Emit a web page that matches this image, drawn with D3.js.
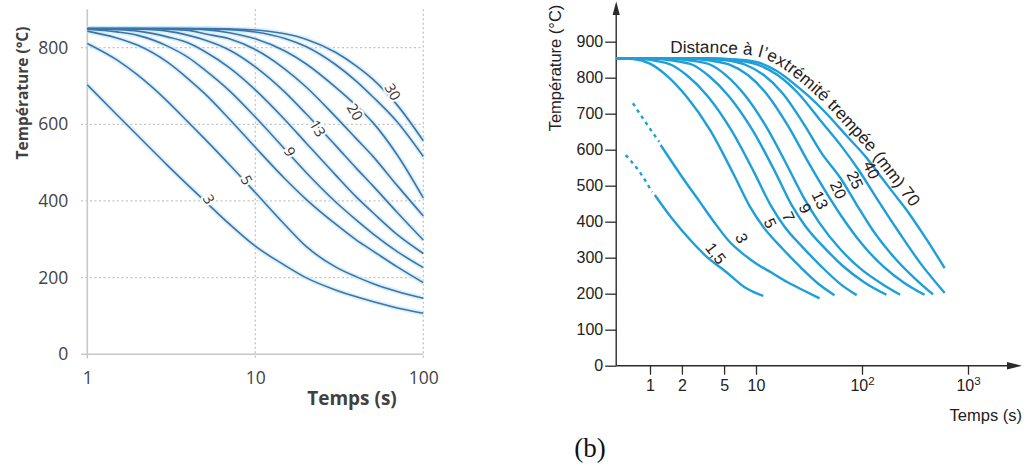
<!DOCTYPE html>
<html><head><meta charset="utf-8">
<script src="https://cdn.jsdelivr.net/npm/d3@7"></script>
<style>
body{margin:0;background:#fff;}
svg{display:block;}
</style></head><body>
<svg id="chart" width="1027" height="471"></svg>
<script>
// ================= DATA : left panel =================
const leftTimes = [1, 1.5, 2, 3, 4, 5, 7, 10, 15, 20, 30, 40, 50, 70, 100];
const leftT3  = [703, 625, 570, 493, 440, 400, 340, 282, 232, 200, 168, 150, 138, 121, 107];
const leftT5  = [811, 768, 728, 660, 605, 562, 495, 422, 338, 282, 228, 202, 185, 164, 146];
const leftT7  = [843, 825, 806, 762, 718, 680, 614, 540, 458, 405, 340, 298, 270, 228, 187];
const leftT9  = [848, 841, 832, 804, 774, 742, 688, 619, 535, 475, 398, 350, 315, 268, 226];
const leftT11 = [849, 847, 843, 828, 812, 790, 748, 690, 612, 552, 468, 410, 370, 312, 263];
const leftT13 = [849, 849, 848, 843, 832, 820, 794, 750, 684, 628, 545, 485, 440, 370, 298];
const leftT15 = [850, 850, 850, 848, 845, 836, 823, 795, 744, 698, 620, 562, 517, 440, 361];
const leftT20 = [850, 850, 850, 850, 849, 847, 839, 823, 791, 758, 697, 648, 605, 520, 408];
const leftT25 = [850, 850, 850, 850, 850, 849, 847, 841, 824, 803, 756, 712, 672, 606, 516];
const leftT30 = [850, 850, 850, 850, 850, 850, 849, 846, 836, 822, 788, 752, 718, 650, 557];
const leftSeries = [leftT3, leftT5, leftT7, leftT9, leftT11, leftT13, leftT15, leftT20, leftT25, leftT30];
const leftLabelText = ["3", "5", "9", "13", "20", "30"];
const leftLabelTime = [5.3, 8.9, 16.1, 23.6, 39.3, 66];
const leftLabelTemp = [405, 455, 529, 590, 633, 685];
const leftYTicks = [0, 200, 400, 600, 800];
const leftXTicks = [1, 10, 100];

// ================= DATA : right panel (b) =================
const r15Dashed = [[0.59,585],[0.79,540],[1.05,482]];
const r15  = [[1.11,474],[1.6,410],[2.4,349],[3.5,300],[5.2,261],[8.1,215],[11.7,194]];
const r3Dashed = [[0.69,729],[0.89,680],[1.22,622]];
const r3   = [[1.26,613],[2.0,525],[2.95,455],[4.0,400],[5.6,345],[7.6,310],[10,284],[14.1,258],[19.5,233],[28.2,209],[39.8,187]];
const r5   = [[0.48,854],[0.7,852],[1,839],[1.41,808],[2.22,747],[3.68,655],[6.1,534],[8.77,442],[11.75,385],[17.8,325],[26,275],[39.8,225],[55,196]];
const r7   = [[0.48,854],[0.79,853],[1.12,847],[1.58,836],[2.24,806],[3.52,748],[5.83,655],[9.68,535],[13.9,443],[18.6,386],[28.2,326],[41.2,276],[63.1,226],[89.1,196]];
const r9   = [[0.48,854],[1,853],[1.58,848],[2.51,836],[3.55,806],[5.57,748],[9.25,655],[15.35,535],[22,443],[29.5,386],[44.7,326],[66,277],[104.7,232],[170,197]];
const r13  = [[0.48,854],[1.41,854],[2.51,847],[3.72,836],[5.25,806],[7.94,750],[12.6,662],[20,552],[28.2,467],[39.8,396],[63.1,322],[100,266],[158.5,225],[229,197]];
const r20  = [[0.48,854],[2,854],[3.55,848],[5.62,836],[8.32,808],[12.6,755],[20,667],[31.6,562],[44.7,487],[63.1,418],[100,338],[158.5,276],[251,230],[389,197]];
const r25  = [[0.48,854],[2.51,854],[5.01,849],[7.94,836],[11.75,808],[17.8,757],[28.2,672],[41.7,590],[63.1,520],[89.1,447],[125.9,377],[199.5,302],[316,242],[468,198]];
const r40  = [[0.48,854],[3.16,854],[6.31,849],[10,838],[15.85,808],[25.1,756],[39.8,684],[63.1,612],[93.3,543],[141,460],[224,370],[355,285],[603,202]];
const r70  = [[0.48,854],[3.16,854],[6.31,851],[10,844],[15.85,818],[22.9,783],[31.6,748],[45.7,702],[70.8,640],[110,578],[144.5,532],[200,478],[251,441],[398,355],[603,271]];
const rightSolid = [r15, r3, r5, r7, r9, r13, r20, r25, r40];
const rightDashed = [r15Dashed, r3Dashed];
const rightLabelText = ["1,5", "3", "5", "7", "9", "13", "20", "25", "40"];
const rightLabelTime = [4.17, 7.33, 13.6, 20.2, 29, 40.2, 59.7, 85.9, 123];
const rightLabelTemp = [312, 354, 396, 414, 437, 460, 488, 516, 544];
const rightYTicks = [0, 100, 200, 300, 400, 500, 600, 700, 800, 900];
const rightXTicks = [1, 2, 5, 10, 100, 1000];
const curveTitle = "Distance à l’extrémité trempée (mm) 70";

// ================= DRAW =================
const svg = d3.select("#chart");
const LF = "'Open Sans', sans-serif";
const RF = "'Liberation Sans', Arial, sans-serif";

// ---------- left panel ----------
const xL = d3.scaleLog().domain([1, 100]).range([87.3, 423.3]);
const yL = d3.scaleLinear().domain([0, 900]).range([354.3, 9.3]);
const gL = svg.append("g");

gL.selectAll("line.hg").data(leftYTicks.filter(d => d > 0)).join("line")
  .attr("x1", 81).attr("x2", xL(100)).attr("y1", d => yL(d)).attr("y2", d => yL(d))
  .attr("stroke", "#c4c4c4").attr("stroke-width", 1.3).attr("stroke-dasharray", "2,2.5");
gL.selectAll("line.vg").data([10, 100]).join("line")
  .attr("x1", d => xL(d)).attr("x2", d => xL(d)).attr("y1", yL(900)).attr("y2", yL(0) + 4)
  .attr("stroke", "#c4c4c4").attr("stroke-width", 1.3).attr("stroke-dasharray", "2,2.5");
gL.append("line").attr("x1", xL(1)).attr("x2", xL(1)).attr("y1", yL(900)).attr("y2", yL(0) + 4)
  .attr("stroke", "#c8c8c8").attr("stroke-width", 1.6);
gL.append("line").attr("x1", 81).attr("x2", xL(100)).attr("y1", yL(0)).attr("y2", yL(0))
  .attr("stroke", "#c8c8c8").attr("stroke-width", 1.6);

const axL = gL.append("g").attr("transform", `translate(${xL(1)},0)`)
  .call(d3.axisLeft(yL).tickValues(leftYTicks).tickSize(0).tickPadding(19));
axL.select(".domain").remove();
axL.selectAll("text").attr("font-family", LF).attr("font-size", 17.5).attr("fill", "#444");
const axLx = gL.append("g").attr("transform", `translate(0,${yL(0)})`)
  .call(d3.axisBottom(xL).tickValues(leftXTicks).tickFormat(d3.format("d")).tickSize(0).tickPadding(17.5));
axLx.select(".domain").remove();
axLx.selectAll("text").attr("font-family", LF).attr("font-size", 17.5).attr("fill", "#444");

gL.append("text").attr("transform", "translate(28,93) rotate(-90)").attr("text-anchor", "middle")
  .attr("font-family", LF).attr("font-weight", "bold").attr("font-size", 15.5).attr("fill", "#404040")
  .text("Température (°C)");
gL.append("text").attr("x", 352).attr("y", 405).attr("text-anchor", "middle")
  .attr("font-family", LF).attr("font-weight", "bold").attr("font-size", 19).attr("fill", "#404040")
  .text("Temps (s)");

const lineL = d3.line().x(d => xL(d[0])).y(d => yL(d[1])).curve(d3.curveMonotoneX);
const leftData = leftSeries.map(s => leftTimes.map((t, i) => [t, s[i]]));
gL.selectAll("path.halo").data(leftData).join("path")
  .attr("d", lineL).attr("fill", "none").attr("stroke", "#cdeaf8").attr("stroke-width", 5).attr("opacity", 0.7);
gL.selectAll("path.core").data(leftData).join("path")
  .attr("d", lineL).attr("fill", "none").attr("stroke", "#3a74a8").attr("stroke-width", 1.6);

gL.selectAll("text.lbl").data(leftLabelText).join("text")
  .attr("transform", (d, i) => `translate(${xL(leftLabelTime[i])},${yL(leftLabelTemp[i])}) rotate(60)`)
  .attr("text-anchor", "middle").attr("dominant-baseline", "central")
  .attr("font-family", LF).attr("font-size", 14.5).attr("fill", "#333")
  .attr("stroke", "#fff").attr("stroke-width", 4).attr("paint-order", "stroke")
  .text(d => d);

// ---------- right panel ----------
const xR = d3.scaleLog().domain([1, 1000]).range([650, 968]);
const yR = d3.scaleLinear().domain([0, 900]).range([365.7, 41.7]);
const gR = svg.append("g");
const x0 = xR(0.48);

gR.append("line").attr("x1", x0).attr("x2", x0).attr("y1", yR(0)).attr("y2", 12)
  .attr("stroke", "#2b2b2b").attr("stroke-width", 1.4);
gR.append("path").attr("d", `M${x0},1.5 L${x0 - 3.6},15 L${x0 + 3.6},15 Z`).attr("fill", "#2b2b2b");
gR.append("line").attr("x1", x0).attr("x2", 1010).attr("y1", yR(0)).attr("y2", yR(0))
  .attr("stroke", "#2b2b2b").attr("stroke-width", 1.4);
gR.append("path").attr("d", `M1022,${yR(0)} L1007,${yR(0) - 3.8} L1007,${yR(0) + 3.8} Z`).attr("fill", "#2b2b2b");

const axR = gR.append("g").attr("transform", `translate(${x0},0)`)
  .call(d3.axisLeft(yR).tickValues(rightYTicks).tickSize(11).tickPadding(2).tickFormat(d3.format("d")));
axR.select(".domain").remove();
axR.selectAll("line").attr("stroke", "#2b2b2b").attr("stroke-width", 1.3);
axR.selectAll("text").attr("font-family", RF).attr("font-size", 16).attr("fill", "#222");

const axRx = gR.append("g").attr("transform", `translate(0,${yR(0)})`)
  .call(d3.axisBottom(xR).tickValues(rightXTicks).tickSize(9).tickPadding(5).tickFormat(d => d >= 100 ? "" : String(d)));
axRx.select(".domain").remove();
axRx.selectAll("line").attr("stroke", "#2b2b2b").attr("stroke-width", 1.3);
axRx.selectAll("text").attr("font-family", RF).attr("font-size", 16).attr("fill", "#222")
  .each(function(d) {
    if (d >= 100) {
      const t = d3.select(this);
      t.append("tspan").text("10");
      t.append("tspan").attr("font-size", 11.5).attr("dy", -6.5).text(String(Math.round(Math.log10(d))));
    }
  });

gR.append("text").attr("x", 1022).attr("y", 421).attr("text-anchor", "end")
  .attr("font-family", RF).attr("font-size", 16.5).attr("fill", "#222").text("Temps (s)");
gR.append("text").attr("transform", "translate(561,68) rotate(-90)").attr("text-anchor", "middle")
  .attr("font-family", RF).attr("font-size", 16.5).attr("fill", "#222").text("Température (°C)");
gR.append("text").attr("x", 590).attr("y", 457).attr("text-anchor", "middle")
  .attr("font-family", "'Liberation Serif', 'Times New Roman', serif").attr("font-size", 27).attr("fill", "#111")
  .text("(b)");

const lineR = d3.line().x(d => xR(d[0])).y(d => yR(d[1])).curve(d3.curveMonotoneX);
const RC = "#1d9fda";
gR.selectAll("path.rs").data(rightSolid).join("path")
  .attr("d", lineR).attr("fill", "none").attr("stroke", RC).attr("stroke-width", 2.4);
gR.selectAll("path.rd").data(rightDashed).join("path")
  .attr("d", lineR).attr("fill", "none").attr("stroke", RC).attr("stroke-width", 2.4).attr("stroke-dasharray", "3.5,4");
gR.append("path").datum(r70).attr("id", "curve70")
  .attr("d", lineR).attr("fill", "none").attr("stroke", RC).attr("stroke-width", 2.4);

const titleText = gR.append("text").attr("dy", -5.5)
  .attr("font-family", RF).attr("font-size", 17.2).attr("fill", "#222");
titleText.append("textPath").attr("href", "#curve70").attr("startOffset", 54).text(curveTitle);

gR.selectAll("text.rl").data(rightLabelText).join("text")
  .attr("transform", (d, i) => `translate(${xR(rightLabelTime[i])},${yR(rightLabelTemp[i])}) rotate(${i === 0 ? 52 : 65})`)
  .attr("text-anchor", "middle").attr("dominant-baseline", "central")
  .attr("font-family", RF).attr("font-size", 16).attr("fill", "#222")
  .text(d => d);
</script>
</body></html>
